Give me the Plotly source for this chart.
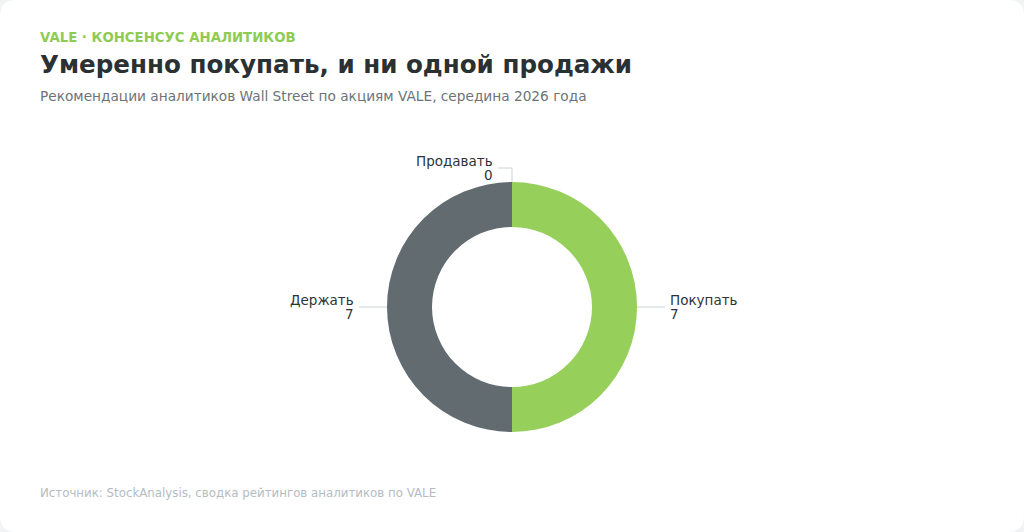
import math
import plotly.graph_objects as go

# analyst ratings for VALE
labels = ["Покупать", "Держать", "Продавать"]
counts = [7, 7, 0]
colors = ["#97cf5b", "#626c70", "#d9534f"]

W, H = 1024, 532
FONT = "DejaVu Sans"

# donut geometry (pixels)
CX, CY, R = 512, 307, 125
HOLE = 0.64
L1, L2, GAP = 14, 14, 4

fig = go.Figure()

fig.add_trace(go.Pie(
    labels=labels,
    values=counts,
    hole=HOLE,
    sort=False,
    direction="clockwise",
    rotation=0,
    marker=dict(colors=colors, line=dict(width=0)),
    textinfo="none",
    showlegend=False,
    hoverinfo="label+value",
    domain=dict(x=[0.3, 0.7], y=[(H - CY - R) / H, (H - CY + R) / H]),
))

# white card with rounded corners
r = 16
rx, ry = r / W, r / H
card = (f"M {rx},0 L {1 - rx},0 Q 1,0 1,{ry} L 1,{1 - ry} Q 1,1 {1 - rx},1 "
        f"L {rx},1 Q 0,1 0,{1 - ry} L 0,{ry} Q 0,0 {rx},0 Z")
fig.add_shape(type="path", path=card, xref="paper", yref="paper",
              fillcolor="white", line=dict(width=0), layer="below")


def px(x, y):
    return x / W, 1 - y / H


# outside labels with two-segment leader lines
total = sum(counts)
start = 0
for lab, val in zip(labels, counts):
    mid = (start + val / 2) / total * 2 * math.pi
    start += val
    sx, sy = math.sin(mid), -math.cos(mid)
    side = 1 if sx > 1e-6 else -1
    x0, y0 = CX + R * sx, CY + R * sy
    x1, y1 = CX + (R + L1) * sx, CY + (R + L1) * sy
    x2, y2 = x1 + side * L2, y1
    p0, p1, p2 = px(x0, y0), px(x1, y1), px(x2, y2)
    fig.add_shape(type="path", xref="paper", yref="paper",
                  path=f"M {p0[0]},{p0[1]} L {p1[0]},{p1[1]} L {p2[0]},{p2[1]}",
                  line=dict(color="#cbd3d9", width=1))
    anchor = "left" if side > 0 else "right"
    tx = x2 + side * GAP
    for txt, dy in ((lab, -7.5), (str(val), 7)):
        ax, ay = px(tx, y2 + dy)
        fig.add_annotation(text=txt, x=ax, y=ay, xref="paper", yref="paper",
                           xanchor=anchor, yanchor="middle", showarrow=False,
                           borderpad=0,
                           font=dict(family=FONT, size=13.5, color="#2d3436"))


def note(text, y, size, color, bold=False):
    fig.add_annotation(
        text=f"<b>{text}</b>" if bold else text,
        x=38 / W, y=1 - y / H, xref="paper", yref="paper",
        xanchor="left", yanchor="middle", showarrow=False,
        font=dict(family=FONT, size=size, color=color),
    )


note("VALE · КОНСЕНСУС АНАЛИТИКОВ", 37, 13.3, "#8fcb52", bold=True)
note("Умеренно покупать, и ни одной продажи", 64, 24.6, "#2b3133", bold=True)
note("Рекомендации аналитиков Wall Street по акциям VALE, середина 2026 года", 96, 13.7, "#6b7478")
note("Источник: StockAnalysis, сводка рейтингов аналитиков по VALE", 493, 11.8, "#b4bcc2")

fig.update_layout(
    width=W, height=H,
    margin=dict(l=0, r=0, t=0, b=0),
    paper_bgcolor="#f2f3f4",
    plot_bgcolor="white",
    font=dict(family=FONT),
)

fig.write_html("out.html", config={"displayModeBar": False},
               post_script="document.body.style.margin = '0';")
